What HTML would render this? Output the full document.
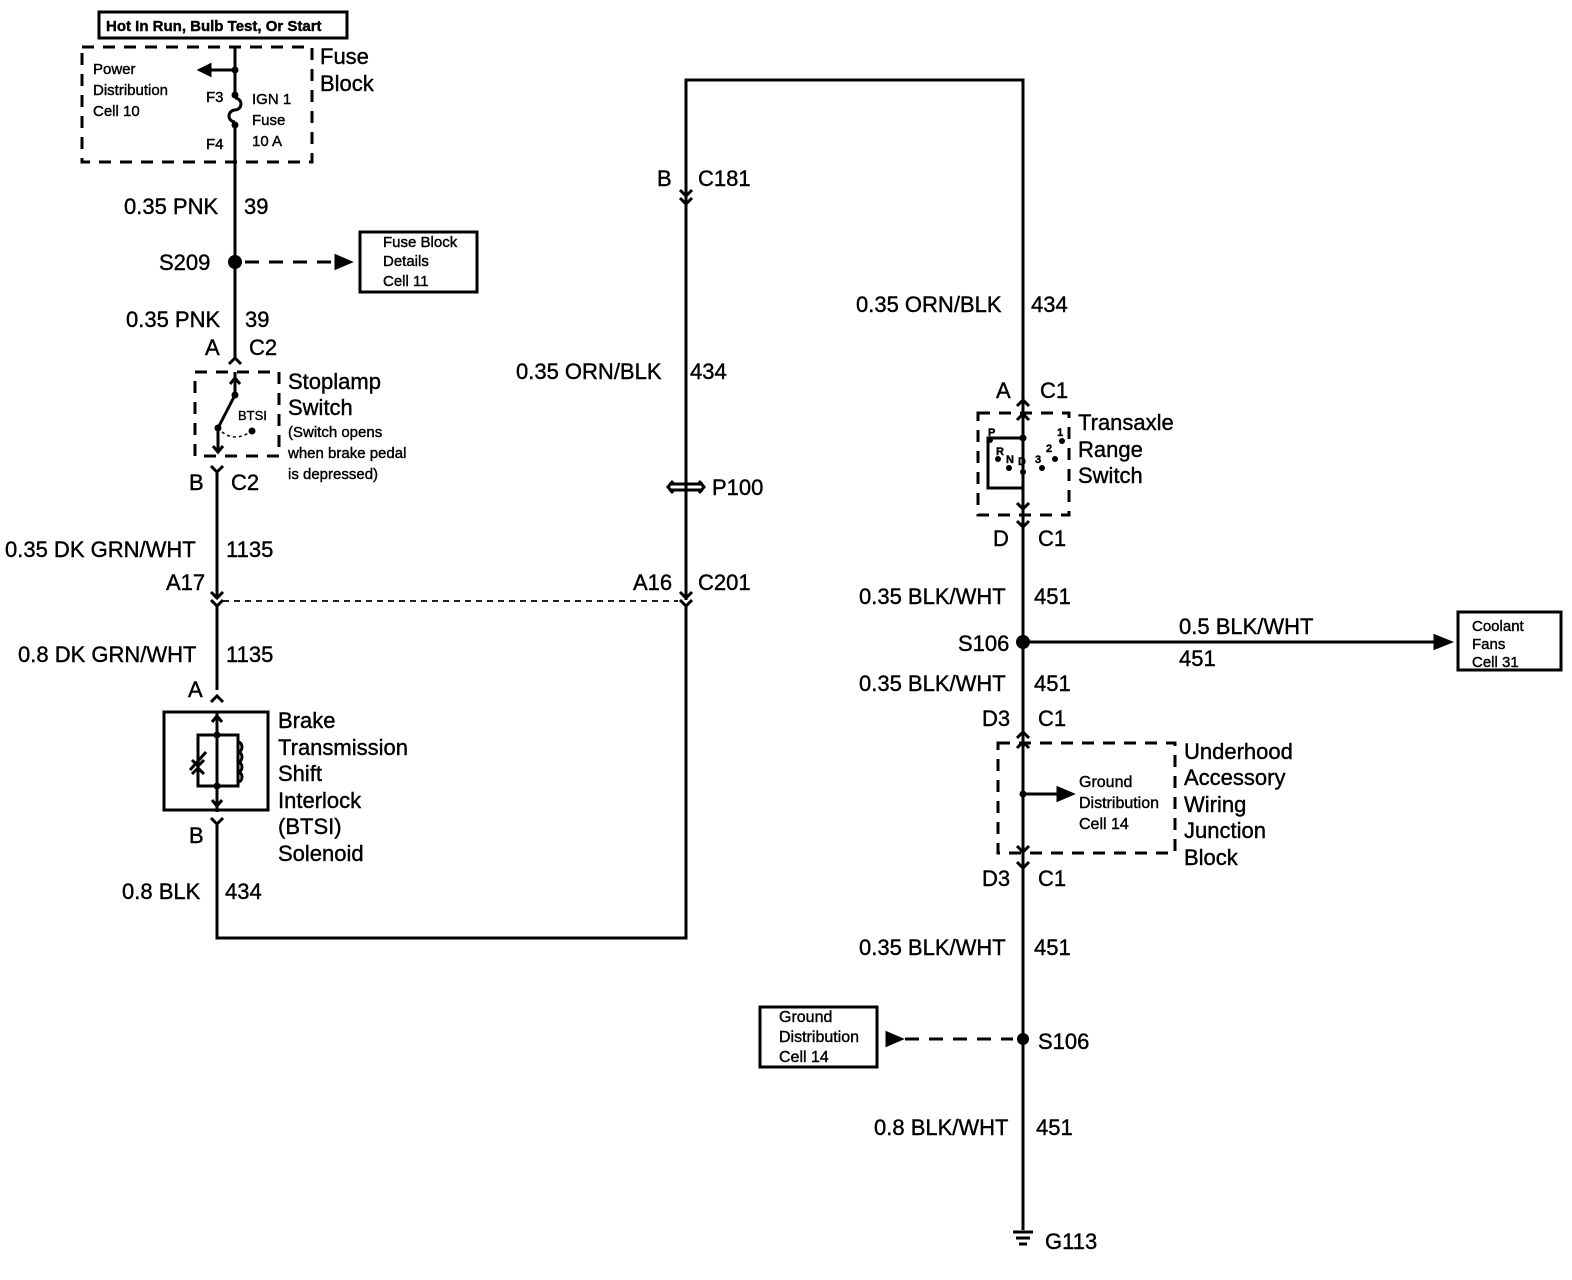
<!DOCTYPE html>
<html><head><meta charset="utf-8"><style>
html,body{margin:0;padding:0;background:#fff}
svg{display:block}
text{font-family:"Liberation Sans",sans-serif;fill:#000;stroke:#000;stroke-width:0.4}
.l{font-size:22px}
.s{font-size:15px}
.m{font-size:16px}
</style></head><body>
<svg width="1572" height="1280" viewBox="0 0 1572 1280" xmlns="http://www.w3.org/2000/svg">
<g stroke="#000" stroke-width="3" fill="none">
<rect x="99" y="12" width="248" height="26"/>
<rect x="82" y="47" width="230" height="115" stroke-dasharray="12,9"/>
<path d="M235 47 V92 M235 128 V358"/>
<path d="M235 98 a6 6 0 0 1 0 12 a6 6 0 0 0 0 12" />
<path d="M235 70 H200"/>
<path d="M200 70 l10 -5 v10 z" fill="#000"/>
<path d="M245 262 H335" stroke-dasharray="14,10"/>
<path d="M350 262 l-14 -6 v12 z" fill="#000"/>
<rect x="360" y="232" width="117" height="60"/>
<path d="M229 364 l6 -6 l6 6"/>
<rect x="195" y="372" width="84" height="84" stroke-dasharray="12,9"/>
<path d="M235 372 V393 M235 378 l-5 6 M235 378 l5 6"/>
<path d="M235 395 L218 428 M218 428 V452 M213 446 l5 6 l5 -6"/>
<path d="M222 432 Q235 442 250 432" stroke-width="1.5" stroke-dasharray="3,3"/>
<path d="M211 466 l6 6 l6 -6 M217 472 V596"/>
<path d="M211 592 l6 6 l6 -6 M211 600 l6 6 l6 -6 M217 606 V690"/>
<path d="M223 601 H678" stroke-width="1.8" stroke-dasharray="6,5"/>
<path d="M211 702 l6 -6 l6 6"/>
<rect x="164" y="712" width="104" height="98"/>
<path d="M217 712 V812 M212 722 l5 -6 l5 6 M212 800 l5 6 l5 -6"/>
<path d="M198 735 H238 V786 H198 Z"/>
<path d="M238 742 a4 5 0 0 1 0 10 a4 5 0 0 1 0 10 a4 5 0 0 1 0 10 a4 5 0 0 1 0 10"/>
<path d="M190 770 L206 752 M192 760 l6 6 l6 -6 M192 774 l6 -6 l6 6"/>
<path d="M211 818 l6 6 l6 -6 M217 824 V938 H686 V606"/>
<path d="M680 592 l6 6 l6 -6 M680 600 l6 6 l6 -6"/>
<path d="M669 484 h34 M669 490 h34" stroke-width="3"/>
<path d="M673 481 l-5 6 l5 6 M699 481 l5 6 l-5 6"/>
<path d="M686 600 V80 H1023 V1230"/>
<path d="M680 190 l6 6 l6 -6 M680 198 l6 6 l6 -6"/>
<path d="M1017 406 l6 -6 l6 6"/>
<rect x="978" y="413" width="91" height="102" stroke-dasharray="12,9"/>
<path d="M1017 420 l6 -6 l6 6 M1023 438 H988 V488 H1023 V510 M1017 503 l6 6 l6 -6"/>
<path d="M1017 521 l6 6 l6 -6"/>
<path d="M1023 642 H1434"/>
<path d="M1450 642 l-15 -6 v12 z" fill="#000"/>
<rect x="1458" y="612" width="103" height="58"/>
<path d="M1017 738 l6 -6 l6 6"/>
<rect x="998" y="743" width="177" height="110" stroke-dasharray="12,9"/>
<path d="M1017 748 l6 -6 l6 6 M1017 846 l6 6 l6 -6 M1023 794 H1058"/>
<path d="M1072 794 l-14 -6 v12 z" fill="#000"/>
<path d="M1017 862 l6 6 l6 -6"/>
<rect x="760" y="1007" width="117" height="60"/>
<path d="M905 1039 H1013" stroke-dasharray="14,10"/>
<path d="M901 1039 l-14 -6 v12 z" fill="#000"/>
<path d="M1013 1232 h20 M1016 1238 h14 M1019 1244 h8"/>
</g>
<g fill="#000">
<circle cx="235" cy="70" r="3.5"/><circle cx="235" cy="95" r="3.5"/><circle cx="235" cy="125" r="3.5"/>
<circle cx="235" cy="262" r="7"/>
<circle cx="235" cy="395" r="3.5"/><circle cx="218" cy="428" r="3.5"/><circle cx="252" cy="431" r="3.5"/>
<circle cx="217" cy="735" r="3.5"/><circle cx="217" cy="786" r="3.5"/>
<circle cx="1023" cy="438" r="3.5"/><circle cx="990" cy="440" r="3"/><circle cx="998" cy="459" r="3"/><circle cx="1009" cy="468" r="3"/><circle cx="1023" cy="472" r="3"/><circle cx="1042" cy="468" r="3"/><circle cx="1055" cy="459" r="3"/><circle cx="1062" cy="441" r="3"/>
<circle cx="1023" cy="642" r="7"/>
<circle cx="1023" cy="794" r="3.5"/>
<circle cx="1023" cy="1039" r="6"/>
</g>
<text class="s" x="106" y="31" font-weight="bold">Hot In Run, Bulb Test, Or Start</text>
<text class="s" x="93" y="74">Power</text><text class="s" x="93" y="95">Distribution</text><text class="s" x="93" y="116">Cell 10</text>
<text class="s" x="206" y="102">F3</text><text class="s" x="206" y="149">F4</text>
<text class="s" x="252" y="104">IGN 1</text><text class="s" x="252" y="125">Fuse</text><text class="s" x="252" y="146">10 A</text>
<text class="l" x="320" y="64">Fuse</text><text class="l" x="320" y="91">Block</text>
<text class="l" x="124" y="214">0.35 PNK</text><text class="l" x="244" y="214">39</text>
<text class="l" x="159" y="270">S209</text>
<text class="s" x="383" y="247">Fuse Block</text><text class="s" x="383" y="266">Details</text><text class="s" x="383" y="286">Cell 11</text>
<text class="l" x="126" y="327">0.35 PNK</text><text class="l" x="245" y="327">39</text>
<text class="l" x="205" y="355">A</text><text class="l" x="249" y="355">C2</text>
<text class="l" x="288" y="389">Stoplamp</text><text class="l" x="288" y="415">Switch</text>
<text class="s" x="288" y="437">(Switch opens</text><text class="s" x="288" y="458">when brake pedal</text><text class="s" x="288" y="479">is depressed)</text>
<text style="font-size:13px" x="238" y="420">BTSI</text>
<text class="l" x="189" y="490">B</text><text class="l" x="231" y="490">C2</text>
<text class="l" x="5" y="557">0.35 DK GRN/WHT</text><text class="l" x="226" y="557">1135</text>
<text class="l" x="166" y="590">A17</text>
<text class="l" x="18" y="662">0.8 DK GRN/WHT</text><text class="l" x="226" y="662">1135</text>
<text class="l" x="188" y="697">A</text>
<text class="l" x="278" y="728">Brake</text><text class="l" x="278" y="755">Transmission</text><text class="l" x="278" y="781">Shift</text><text class="l" x="278" y="808">Interlock</text><text class="l" x="278" y="834">(BTSI)</text><text class="l" x="278" y="861">Solenoid</text>
<text class="l" x="189" y="843">B</text>
<text class="l" x="122" y="899">0.8 BLK</text><text class="l" x="225" y="899">434</text>
<text class="l" x="657" y="186">B</text><text class="l" x="698" y="186">C181</text>
<text class="l" x="516" y="379">0.35 ORN/BLK</text><text class="l" x="690" y="379">434</text>
<text class="l" x="712" y="495">P100</text>
<text class="l" x="633" y="590">A16</text><text class="l" x="698" y="590">C201</text>
<text class="l" x="856" y="312">0.35 ORN/BLK</text><text class="l" x="1031" y="312">434</text>
<text class="l" x="996" y="398">A</text><text class="l" x="1040" y="398">C1</text>
<text class="l" x="1078" y="430">Transaxle</text><text class="l" x="1078" y="457">Range</text><text class="l" x="1078" y="483">Switch</text>
<text style="font-size:11px;font-weight:bold" x="988" y="436">P</text><text style="font-size:11px;font-weight:bold" x="996" y="455">R</text><text style="font-size:11px;font-weight:bold" x="1006" y="463">N</text><text style="font-size:11px;font-weight:bold" x="1018" y="465">D</text><text style="font-size:11px;font-weight:bold" x="1035" y="463">3</text><text style="font-size:11px;font-weight:bold" x="1046" y="452">2</text><text style="font-size:11px;font-weight:bold" x="1057" y="436">1</text>
<text class="l" x="993" y="546">D</text><text class="l" x="1038" y="546">C1</text>
<text class="l" x="859" y="604">0.35 BLK/WHT</text><text class="l" x="1034" y="604">451</text>
<text class="l" x="958" y="651">S106</text>
<text class="l" x="1179" y="634">0.5 BLK/WHT</text><text class="l" x="1179" y="666">451</text>
<text class="s" x="1472" y="631">Coolant</text><text class="s" x="1472" y="649">Fans</text><text class="s" x="1472" y="667">Cell 31</text>
<text class="l" x="859" y="691">0.35 BLK/WHT</text><text class="l" x="1034" y="691">451</text>
<text class="l" x="982" y="726">D3</text><text class="l" x="1038" y="726">C1</text>
<text class="m" x="1079" y="787">Ground</text><text class="m" x="1079" y="808">Distribution</text><text class="m" x="1079" y="829">Cell 14</text>
<text class="l" x="1184" y="759">Underhood</text><text class="l" x="1184" y="785">Accessory</text><text class="l" x="1184" y="812">Wiring</text><text class="l" x="1184" y="838">Junction</text><text class="l" x="1184" y="865">Block</text>
<text class="l" x="982" y="886">D3</text><text class="l" x="1038" y="886">C1</text>
<text class="l" x="859" y="955">0.35 BLK/WHT</text><text class="l" x="1034" y="955">451</text>
<text class="m" x="779" y="1022">Ground</text><text class="m" x="779" y="1042">Distribution</text><text class="m" x="779" y="1062">Cell 14</text>
<text class="l" x="1038" y="1049">S106</text>
<text class="l" x="874" y="1135">0.8 BLK/WHT</text><text class="l" x="1036" y="1135">451</text>
<text class="l" x="1045" y="1249">G113</text>
</svg>
</body></html>
